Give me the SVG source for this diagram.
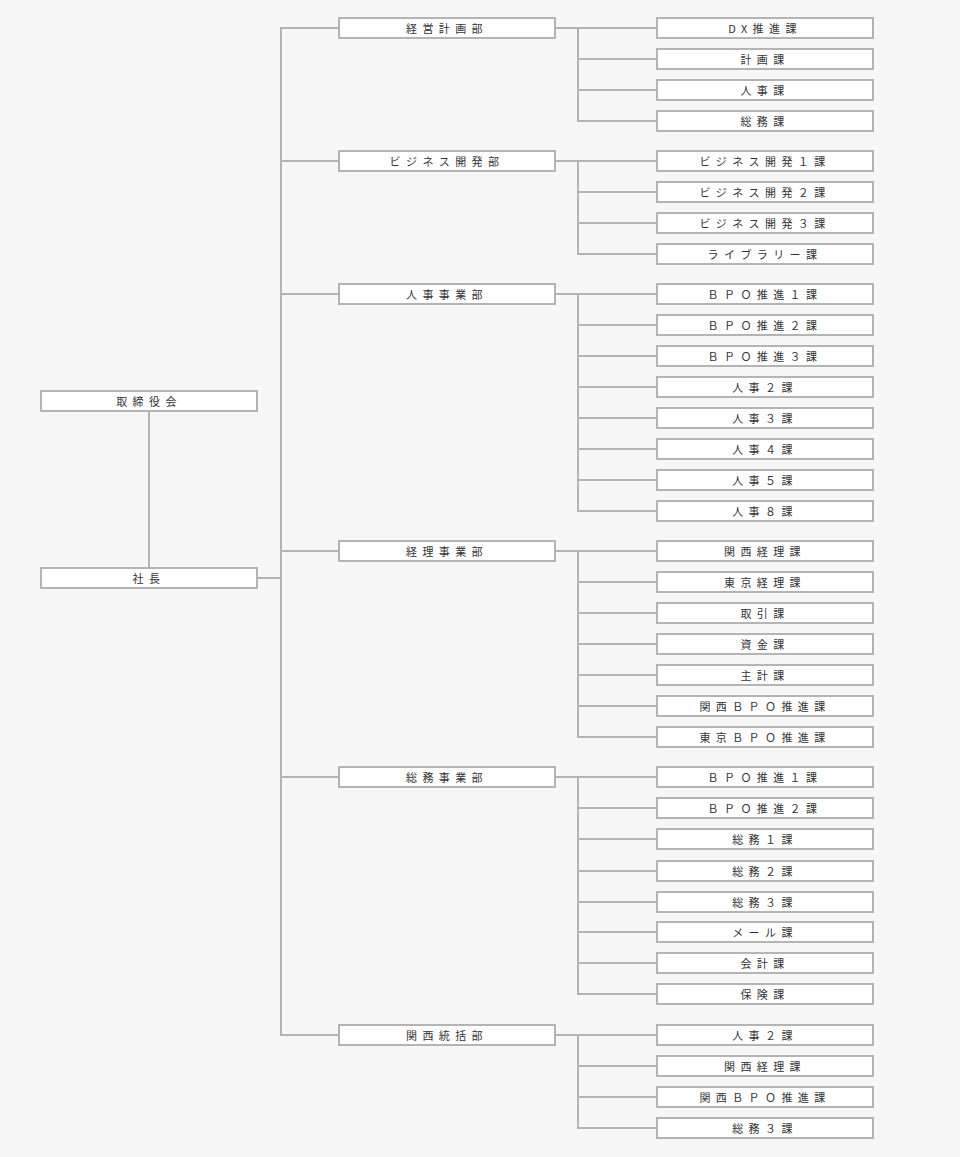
<svg xmlns="http://www.w3.org/2000/svg" width="960" height="1157" viewBox="0 0 960 1157">
<style>
.bg{fill:#f7f7f7}
.box{fill:#ffffff;stroke:#b4b4b4;stroke-width:2}
.ln{fill:none;stroke:#b4b4b4;stroke-width:2;stroke-linecap:square}
.t{font-family:"Noto Sans CJK JP","Noto Sans",sans-serif;font-size:11px;fill:#333333;letter-spacing:5.4px;text-anchor:middle}
</style>
<rect class="bg" x="0" y="0" width="960" height="1157"/>
<g id="connectors">
<path class="ln" d="M149 412V567 M258 578H281 M338 28H281V1035H338 M281 161H338 M281 294H338 M281 551H338 M281 777H338"/>
<path class="ln" d="M556 28H656 M578 28V121H656 M578 59H656 M578 90H656"/>
<path class="ln" d="M556 161H656 M578 161V254H656 M578 192H656 M578 223H656"/>
<path class="ln" d="M556 294H656 M578 294V511H656 M578 325H656 M578 356H656 M578 387H656 M578 418H656 M578 449H656 M578 480H656"/>
<path class="ln" d="M556 551H656 M578 551V737H656 M578 582H656 M578 613H656 M578 644H656 M578 675H656 M578 706H656"/>
<path class="ln" d="M556 777H656 M578 777V994H656 M578 808H656 M578 839H656 M578 871H656 M578 902H656 M578 932H656 M578 963H656"/>
<path class="ln" d="M556 1035H656 M578 1035V1128H656 M578 1066H656 M578 1097H656"/>
</g>
<g id="n-board"><rect class="box" x="41" y="391" width="216" height="20"/><text class="t" x="149" y="406">取締役会</text></g>
<g id="n-president"><rect class="box" x="41" y="568" width="216" height="20"/><text class="t" x="149" y="583">社長</text></g>

<g id="d-keiei"><rect class="box" x="339" y="18" width="216" height="20"/><text class="t" x="447" y="33">経営計画部</text></g>
<g id="d-biz"><rect class="box" x="339" y="151" width="216" height="20"/><text class="t" x="447" y="166">ビジネス開発部</text></g>
<g id="d-jinji"><rect class="box" x="339" y="284" width="216" height="20"/><text class="t" x="447" y="299">人事事業部</text></g>
<g id="d-keiri"><rect class="box" x="339" y="541" width="216" height="20"/><text class="t" x="447" y="556">経理事業部</text></g>
<g id="d-soumu"><rect class="box" x="339" y="767" width="216" height="20"/><text class="t" x="447" y="782">総務事業部</text></g>
<g id="d-kansai"><rect class="box" x="339" y="1025" width="216" height="20"/><text class="t" x="447" y="1040">関西統括部</text></g>

<g id="s01"><rect class="box" x="657" y="18" width="216" height="20"/><text class="t" x="765" y="33">DX推進課</text></g>
<g id="s02"><rect class="box" x="657" y="49" width="216" height="20"/><text class="t" x="765" y="64">計画課</text></g>
<g id="s03"><rect class="box" x="657" y="80" width="216" height="20"/><text class="t" x="765" y="95">人事課</text></g>
<g id="s04"><rect class="box" x="657" y="111" width="216" height="20"/><text class="t" x="765" y="126">総務課</text></g>

<g id="s05"><rect class="box" x="657" y="151" width="216" height="20"/><text class="t" x="765" y="166">ビジネス開発１課</text></g>
<g id="s06"><rect class="box" x="657" y="182" width="216" height="20"/><text class="t" x="765" y="197">ビジネス開発２課</text></g>
<g id="s07"><rect class="box" x="657" y="213" width="216" height="20"/><text class="t" x="765" y="228">ビジネス開発３課</text></g>
<g id="s08"><rect class="box" x="657" y="244" width="216" height="20"/><text class="t" x="765" y="259">ライブラリー課</text></g>

<g id="s09"><rect class="box" x="657" y="284" width="216" height="20"/><text class="t" x="765" y="299">ＢＰＯ推進１課</text></g>
<g id="s10"><rect class="box" x="657" y="315" width="216" height="20"/><text class="t" x="765" y="330">ＢＰＯ推進２課</text></g>
<g id="s11"><rect class="box" x="657" y="346" width="216" height="20"/><text class="t" x="765" y="361">ＢＰＯ推進３課</text></g>
<g id="s12"><rect class="box" x="657" y="377" width="216" height="20"/><text class="t" x="765" y="392">人事２課</text></g>
<g id="s13"><rect class="box" x="657" y="408" width="216" height="20"/><text class="t" x="765" y="423">人事３課</text></g>
<g id="s14"><rect class="box" x="657" y="439" width="216" height="20"/><text class="t" x="765" y="454">人事４課</text></g>
<g id="s15"><rect class="box" x="657" y="470" width="216" height="20"/><text class="t" x="765" y="485">人事５課</text></g>
<g id="s16"><rect class="box" x="657" y="501" width="216" height="20"/><text class="t" x="765" y="516">人事８課</text></g>

<g id="s17"><rect class="box" x="657" y="541" width="216" height="20"/><text class="t" x="765" y="556">関西経理課</text></g>
<g id="s18"><rect class="box" x="657" y="572" width="216" height="20"/><text class="t" x="765" y="587">東京経理課</text></g>
<g id="s19"><rect class="box" x="657" y="603" width="216" height="20"/><text class="t" x="765" y="618">取引課</text></g>
<g id="s20"><rect class="box" x="657" y="634" width="216" height="20"/><text class="t" x="765" y="649">資金課</text></g>
<g id="s21"><rect class="box" x="657" y="665" width="216" height="20"/><text class="t" x="765" y="680">主計課</text></g>
<g id="s22"><rect class="box" x="657" y="696" width="216" height="20"/><text class="t" x="765" y="711">関西ＢＰＯ推進課</text></g>
<g id="s23"><rect class="box" x="657" y="727" width="216" height="20"/><text class="t" x="765" y="742">東京ＢＰＯ推進課</text></g>

<g id="s24"><rect class="box" x="657" y="767" width="216" height="20"/><text class="t" x="765" y="782">ＢＰＯ推進１課</text></g>
<g id="s25"><rect class="box" x="657" y="798" width="216" height="20"/><text class="t" x="765" y="813">ＢＰＯ推進２課</text></g>
<g id="s26"><rect class="box" x="657" y="829" width="216" height="20"/><text class="t" x="765" y="844">総務１課</text></g>
<g id="s27"><rect class="box" x="657" y="861" width="216" height="20"/><text class="t" x="765" y="876">総務２課</text></g>
<g id="s28"><rect class="box" x="657" y="892" width="216" height="20"/><text class="t" x="765" y="907">総務３課</text></g>
<g id="s29"><rect class="box" x="657" y="922" width="216" height="20"/><text class="t" x="765" y="937">メール課</text></g>
<g id="s30"><rect class="box" x="657" y="953" width="216" height="20"/><text class="t" x="765" y="968">会計課</text></g>
<g id="s31"><rect class="box" x="657" y="984" width="216" height="20"/><text class="t" x="765" y="999">保険課</text></g>

<g id="s32"><rect class="box" x="657" y="1025" width="216" height="20"/><text class="t" x="765" y="1040">人事２課</text></g>
<g id="s33"><rect class="box" x="657" y="1056" width="216" height="20"/><text class="t" x="765" y="1071">関西経理課</text></g>
<g id="s34"><rect class="box" x="657" y="1087" width="216" height="20"/><text class="t" x="765" y="1102">関西ＢＰＯ推進課</text></g>
<g id="s35"><rect class="box" x="657" y="1118" width="216" height="20"/><text class="t" x="765" y="1133">総務３課</text></g>
</svg>
